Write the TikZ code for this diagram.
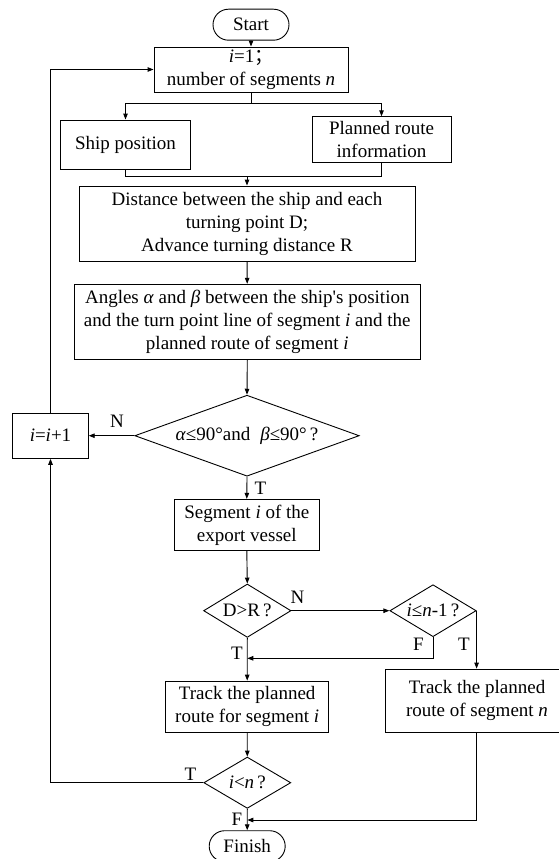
\documentclass[tikz,border=0pt]{standalone}
\usepackage{fontspec}
\setmainfont{Liberation Serif}
\newfontfamily\plainserif{Liberation Serif}
\newfontfamily\cjk{Noto Sans CJK SC}
\usetikzlibrary{shapes.geometric,shapes.misc,arrows.meta}

\begin{document}
\begin{tikzpicture}[
  x=1pt, y=-1pt,
  font=\fontsize{19}{23}\selectfont,
  line width=0.9pt,
  box/.style={draw, rectangle, inner sep=0pt, align=center},
  term/.style={draw, rounded rectangle, inner sep=0pt, minimum width=76pt, minimum height=31pt},
  decision/.style={draw, diamond, inner sep=0pt, align=center},
  flow/.style={-{Triangle[length=6pt,width=4.5pt]}},
  lbl/.style={inner sep=0pt}
]
\useasboundingbox (0,0) rectangle (558,859);

% main column
\node[term] (start) at (251,24.7) {Start};
\node[box, minimum width=194pt, minimum height=45pt] (init) at (251,69.5)
  {\textit{i}=1{\cjk ；}\\number of segments \textit{n}};
\node[box, minimum width=130pt, minimum height=49pt] (ship) at (125.5,144.5) {Ship position};
\node[box, minimum width=139pt, minimum height=45.5pt] (route) at (381.5,139.5)
  {Planned route\\information};
\node[box, minimum width=336pt, minimum height=75pt] (dist) at (247,223.5)
  {Distance between the ship and each\\turning point D;\\Advance turning distance R};
\node[box, minimum width=346.6pt, minimum height=75pt] (angles) at (247.3,321.8)
  {Angles \textit{α} and \textit{β} between the ship{\plainserif '}s position\\
   and the turn point line of segment \textit{i} and the\\
   planned route of segment \textit{i}};
\node[decision, aspect=2.77, minimum width=224.4pt, minimum height=81pt] (check) at (247,435.7)
  {\textit{α}≤90°and\hspace{10pt}\textit{β}≤90°\,?};
\node[box, minimum width=75.5pt, minimum height=45.3pt] (inc) at (50.5,435.7)
  {\textit{i}=\textit{i}+1};
\node[box, minimum width=145.6pt, minimum height=51.4pt] (seg) at (246.8,525)
  {Segment \textit{i} of the\\export vessel};
\node[decision, aspect=1.64, minimum width=87.4pt, minimum height=53.4pt] (dr) at (247.3,610.7)
  {D>R\,?};
\node[decision, aspect=1.66, minimum width=86.3pt, minimum height=52pt] (last) at (433,610.7)
  {\textit{i}≤\textit{n}-1\,?};
\node[box, minimum width=162.7pt, minimum height=51.3pt] (track) at (247.2,706.7)
  {Track the planned\\route for segment \textit{i}};
\node[box, minimum width=183pt, minimum height=63.3pt] (trackn) at (477,700.7)
  {Track the planned\\route of segment \textit{n}};
\node[decision, aspect=1.7, minimum width=87pt, minimum height=51.3pt] (more) at (247.3,782.7)
  {\textit{i}<\textit{n}\,?};
\node[term] (finish) at (247.2,846.2) {Finish};

% junction points
\coordinate (split) at (251,103.3);
\coordinate (merge) at (247,176);
\coordinate (joinA) at (247.3,658.3);
\coordinate (joinB) at (247.3,820);

% connectors
\draw[flow] (start) -- (init);
\draw (init.south) -- (split);
\draw[flow] (split) -| (ship.north);
\draw[flow] (split) -| (route.north);
\draw (ship.south) |- (merge);
\draw (route.south) |- (merge);
\draw[flow] (merge) -- (dist.north);
\draw[flow] (dist) -- (angles);
\draw[flow] (angles.south) -- (check.north);
\draw[flow] (check.west) -- (inc.east);
\draw[flow] (check.south) -- (seg.north);
\draw[flow] (seg.south) -- (dr.north);
\draw[flow] (dr.east) -- (last.west);
\draw[flow] (dr.south) -- (track.north);
\draw[flow] (last.south) |- (joinA);
\draw[flow] (last.east) -- (last.east |- trackn.north);
\draw[flow] (track.south) -- (more.north);
\draw[flow] (more.west) -| (inc.south);
\draw[flow] (inc.north) |- (init.west);
\draw[flow] (more.south) -- (finish.north);
\draw[flow] (last.east |- trackn.south) |- (joinB);

% branch labels
\node[lbl] (nA) at (117,421) {N};
\node[lbl] (tA) at (260.5,488) {T};
\node[lbl] (nB) at (297.5,597) {N};
\node[lbl] (fB) at (418.5,644) {F};
\node[lbl] (tB) at (464,644) {T};
\node[lbl] (tC) at (237,653.5) {T};
\node[lbl] (tD) at (190.5,774) {T};
\node[lbl] (fD) at (237,819) {F};
\end{tikzpicture}
\end{document}
